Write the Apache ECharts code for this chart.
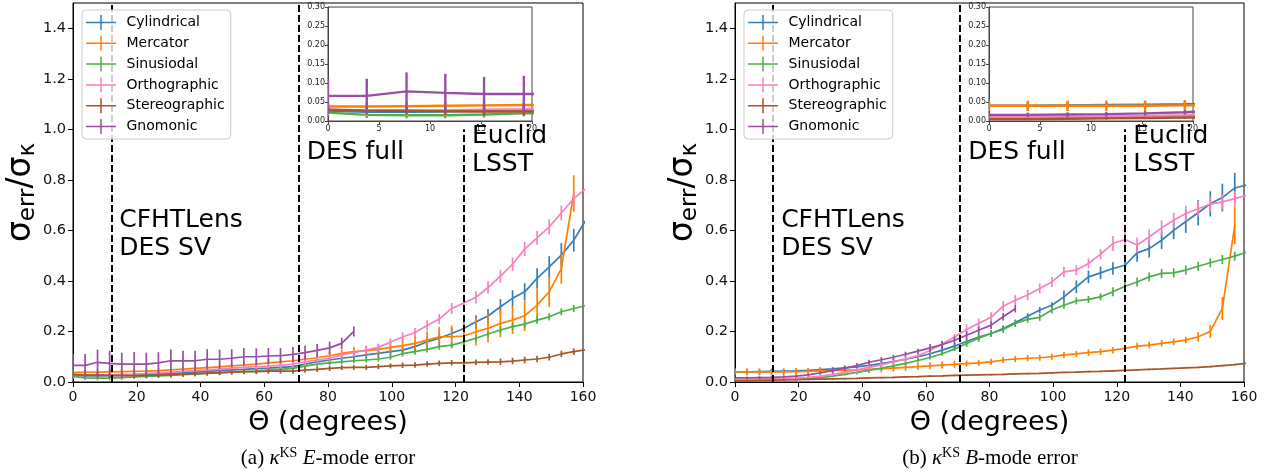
<!DOCTYPE html>
<html>
<head>
<meta charset="utf-8">
<script src="https://cdn.jsdelivr.net/npm/echarts@6/dist/echarts.min.js"></script>
<style>
html, body { margin: 0; padding: 0; background: #fff; }
#chart { width: 1266px; height: 473px; }
</style>
</head>
<body>
<div id="chart"></div>
<script>
// angle of each measurement (degrees)
var theta = [0, 3.8, 7.7, 11.5, 15.3, 19.2, 23.0, 26.8, 30.7, 34.5, 38.3, 42.1, 46.0, 49.8, 53.6,
  57.5, 61.3, 65.1, 69.0, 72.8, 76.6, 80.5, 84.3, 88.1, 92.0, 95.8, 99.6, 103.4, 107.3, 111.1,
  114.9, 118.8, 122.6, 126.4, 130.2, 134.1, 137.9, 141.7, 145.6, 149.4, 153.2, 157.1, 160.9];

var names = ["Cylindrical", "Mercator", "Sinusiodal", "Orthographic", "Stereographic", "Gnomonic"];
var colors = ["#377eb8", "#ff7f00", "#4daf4a", "#f781bf", "#a65628", "#984ea3"];

// survey limits (degrees)
var surveyLines = [12, 70.7, 122.5];

var yTicks = [0, 0.2, 0.4, 0.6, 0.8, 1.0, 1.2, 1.4];

// (a) E-mode error
var eCyl = [0.027, 0.024, 0.024, 0.025, 0.026, 0.027, 0.029, 0.031, 0.034, 0.036, 0.039, 0.042, 0.045, 0.048, 0.050,
  0.053, 0.055, 0.058, 0.061, 0.071, 0.080, 0.087, 0.094, 0.100, 0.107, 0.113, 0.120,
  0.126, 0.140, 0.159, 0.173, 0.192, 0.212, 0.238, 0.261, 0.298, 0.331, 0.357, 0.410, 0.456, 0.502, 0.561, 0.640];
var eCylErr = [0.010, 0.010, 0.010, 0.010, 0.010, 0.010, 0.010, 0.010, 0.010, 0.010, 0.010, 0.010, 0.010, 0.010, 0.010,
  0.010, 0.011, 0.011, 0.012, 0.012, 0.012, 0.013, 0.013, 0.014, 0.014, 0.015, 0.015,
  0.016, 0.018, 0.020, 0.020, 0.022, 0.024, 0.026, 0.028, 0.030, 0.032, 0.034, 0.040, 0.042, 0.048, 0.045, 0.050];
var eMer = [0.038, 0.038, 0.039, 0.040, 0.041, 0.042, 0.043, 0.045, 0.048, 0.051, 0.054, 0.057, 0.060, 0.064, 0.067,
  0.071, 0.076, 0.080, 0.084, 0.090, 0.096, 0.104, 0.113, 0.120, 0.124, 0.129, 0.137,
  0.144, 0.153, 0.166, 0.179, 0.179, 0.182, 0.199, 0.212, 0.232, 0.245, 0.262, 0.304, 0.357, 0.449, 0.746];
var eMerErr = [0.010, 0.010, 0.010, 0.010, 0.010, 0.010, 0.010, 0.010, 0.010, 0.010, 0.010, 0.010, 0.010, 0.010, 0.010,
  0.015, 0.015, 0.015, 0.015, 0.015, 0.015, 0.015, 0.015, 0.020, 0.020, 0.020, 0.020,
  0.030, 0.030, 0.035, 0.040, 0.045, 0.050, 0.055, 0.055, 0.055, 0.055, 0.060, 0.065, 0.060, 0.060, 0.072];
var eSin = [0.022, 0.016, 0.015, 0.015, 0.017, 0.020, 0.022, 0.024, 0.026, 0.029, 0.031, 0.034, 0.036, 0.039, 0.041,
  0.043, 0.047, 0.050, 0.054, 0.063, 0.071, 0.076, 0.080, 0.084, 0.087, 0.091, 0.098,
  0.112, 0.120, 0.129, 0.140, 0.146, 0.159, 0.173, 0.190, 0.206, 0.219, 0.229, 0.245, 0.258, 0.278, 0.291, 0.303];
var eSinErr = [0.008, 0.008, 0.008, 0.008, 0.008, 0.008, 0.008, 0.008, 0.008, 0.008, 0.008, 0.008, 0.008, 0.008, 0.008,
  0.010, 0.010, 0.010, 0.010, 0.010, 0.010, 0.010, 0.010, 0.010, 0.010, 0.010, 0.010,
  0.012, 0.012, 0.012, 0.012, 0.012, 0.012, 0.012, 0.012, 0.014, 0.014, 0.014, 0.014, 0.014, 0.014, 0.014, 0.014];
var eOrt = [0.030, 0.028, 0.028, 0.028, 0.030, 0.031, 0.033, 0.036, 0.039, 0.042, 0.045, 0.048, 0.051, 0.055, 0.058,
  0.061, 0.063, 0.066, 0.071, 0.080, 0.087, 0.094, 0.107, 0.116, 0.126, 0.137, 0.158,
  0.178, 0.196, 0.224, 0.249, 0.291, 0.313, 0.335, 0.374, 0.419, 0.466, 0.526, 0.570, 0.614, 0.669, 0.726, 0.765];
var eOrtErr = [0.014, 0.014, 0.014, 0.014, 0.014, 0.014, 0.014, 0.014, 0.014, 0.014, 0.014, 0.014, 0.014, 0.014, 0.014,
  0.015, 0.015, 0.015, 0.015, 0.015, 0.015, 0.015, 0.015, 0.015, 0.015, 0.015, 0.015,
  0.018, 0.018, 0.020, 0.020, 0.022, 0.022, 0.024, 0.025, 0.026, 0.027, 0.028, 0.028, 0.030, 0.030, 0.030, 0.030];
var eSte = [0.030, 0.027, 0.027, 0.026, 0.025, 0.025, 0.026, 0.027, 0.029, 0.031, 0.033, 0.035, 0.037, 0.039, 0.041,
  0.041, 0.043, 0.043, 0.043, 0.047, 0.050, 0.054, 0.057, 0.058, 0.058, 0.061, 0.064,
  0.066, 0.067, 0.071, 0.074, 0.076, 0.076, 0.078, 0.079, 0.080, 0.083, 0.087, 0.091, 0.098, 0.111, 0.120, 0.128];
var eSteErr = [0.010, 0.010, 0.010, 0.010, 0.010, 0.010, 0.010, 0.010, 0.010, 0.010, 0.010, 0.010, 0.010, 0.010, 0.010,
  0.010, 0.010, 0.010, 0.010, 0.010, 0.010, 0.010, 0.010, 0.010, 0.010, 0.010, 0.010,
  0.011, 0.011, 0.011, 0.011, 0.011, 0.011, 0.011, 0.011, 0.013, 0.013, 0.013, 0.013, 0.013, 0.013, 0.013, 0.013];
var eGno = [0.066, 0.066, 0.078, 0.074, 0.071, 0.071, 0.071, 0.076, 0.084, 0.084, 0.084, 0.090, 0.090, 0.094, 0.100,
  0.100, 0.103, 0.104, 0.109, 0.116, 0.125, 0.135, 0.153, 0.200];
var eGnoErr = [0.045, 0.045, 0.050, 0.050, 0.045, 0.048, 0.045, 0.042, 0.045, 0.040, 0.040, 0.040, 0.038, 0.036, 0.035,
  0.033, 0.032, 0.030, 0.030, 0.028, 0.026, 0.025, 0.022, 0.020];

// (b) B-mode error
var bCyl = [0.040, 0.040, 0.041, 0.042, 0.043, 0.044, 0.046, 0.049, 0.052, 0.056, 0.060, 0.066, 0.073, 0.081, 0.090,
  0.100, 0.112, 0.126, 0.142, 0.160, 0.178, 0.192, 0.212, 0.235, 0.260, 0.285, 0.304, 0.337, 0.377, 0.416,
  0.432, 0.449, 0.462, 0.511, 0.528, 0.561, 0.600, 0.635, 0.670, 0.705, 0.730, 0.768, 0.780];
var bCylErr = [0.008, 0.008, 0.008, 0.008, 0.008, 0.008, 0.008, 0.008, 0.008, 0.008, 0.008, 0.008, 0.008, 0.008, 0.008,
  0.012, 0.012, 0.012, 0.012, 0.012, 0.012, 0.012, 0.012, 0.012, 0.012, 0.012, 0.012, 0.025, 0.025, 0.025,
  0.025, 0.025, 0.025, 0.035, 0.035, 0.035, 0.035, 0.045, 0.050, 0.050, 0.055, 0.060, 0.065];
var bMer = [0.040, 0.040, 0.040, 0.040, 0.040, 0.041, 0.042, 0.044, 0.045, 0.047, 0.048, 0.050, 0.052, 0.055, 0.058,
  0.061, 0.064, 0.067, 0.070, 0.073, 0.076, 0.080, 0.087, 0.091, 0.094, 0.096, 0.100, 0.107, 0.111, 0.116,
  0.120, 0.126, 0.133, 0.142, 0.146, 0.153, 0.159, 0.166, 0.179, 0.200, 0.291, 0.620];
var bMerErr = [0.014, 0.014, 0.014, 0.014, 0.014, 0.014, 0.014, 0.014, 0.014, 0.014, 0.014, 0.014, 0.014, 0.014, 0.014,
  0.014, 0.014, 0.014, 0.014, 0.012, 0.012, 0.012, 0.012, 0.012, 0.012, 0.012, 0.012, 0.012, 0.012, 0.013,
  0.013, 0.013, 0.013, 0.013, 0.013, 0.013, 0.013, 0.013, 0.018, 0.025, 0.045, 0.075];
var bSin = [0.008, 0.008, 0.008, 0.009, 0.010, 0.011, 0.013, 0.017, 0.023, 0.030, 0.038, 0.046, 0.055, 0.064, 0.074,
  0.085, 0.097, 0.112, 0.130, 0.152, 0.173, 0.192, 0.208, 0.232, 0.248, 0.256, 0.285, 0.304, 0.321, 0.327,
  0.337, 0.357, 0.379, 0.396, 0.416, 0.430, 0.432, 0.443, 0.458, 0.472, 0.485, 0.498, 0.514];
var bSinErr = [0.004, 0.004, 0.004, 0.004, 0.004, 0.004, 0.004, 0.004, 0.004, 0.004, 0.008, 0.008, 0.008, 0.008, 0.008,
  0.008, 0.008, 0.008, 0.008, 0.014, 0.014, 0.014, 0.014, 0.014, 0.014, 0.014, 0.014, 0.014, 0.014, 0.014,
  0.014, 0.018, 0.018, 0.018, 0.018, 0.018, 0.018, 0.018, 0.018, 0.018, 0.018, 0.018, 0.018];
var bOrt = [0.010, 0.010, 0.011, 0.012, 0.013, 0.015, 0.018, 0.023, 0.030, 0.038, 0.048, 0.058, 0.068, 0.079, 0.090,
  0.105, 0.125, 0.150, 0.178, 0.208, 0.232, 0.256, 0.300, 0.324, 0.344, 0.370, 0.396, 0.436, 0.443, 0.469,
  0.506, 0.548, 0.564, 0.542, 0.574, 0.610, 0.640, 0.667, 0.686, 0.704, 0.713, 0.726, 0.740];
var bOrtErr = [0.006, 0.006, 0.006, 0.006, 0.006, 0.006, 0.006, 0.006, 0.006, 0.006, 0.012, 0.012, 0.012, 0.012, 0.012,
  0.012, 0.012, 0.012, 0.012, 0.020, 0.020, 0.020, 0.020, 0.020, 0.020, 0.020, 0.020, 0.020, 0.020, 0.020,
  0.020, 0.030, 0.030, 0.030, 0.030, 0.030, 0.030, 0.030, 0.030, 0.030, 0.030, 0.030, 0.030];
var bSte = [0.005, 0.005, 0.006, 0.007, 0.008, 0.009, 0.010, 0.011, 0.012, 0.013, 0.014, 0.016, 0.017, 0.018, 0.020,
  0.021, 0.023, 0.024, 0.026, 0.027, 0.028, 0.029, 0.030, 0.032, 0.033, 0.034, 0.036, 0.038, 0.039, 0.041,
  0.042, 0.044, 0.046, 0.048, 0.050, 0.052, 0.054, 0.056, 0.058, 0.061, 0.065, 0.069, 0.074];
var bSteErr = [0.003, 0.003, 0.003, 0.003, 0.003, 0.003, 0.003, 0.003, 0.003, 0.003, 0.003, 0.003, 0.003, 0.003, 0.003,
  0.003, 0.003, 0.003, 0.003, 0.003, 0.003, 0.003, 0.003, 0.003, 0.003, 0.003, 0.003, 0.003, 0.003, 0.003,
  0.003, 0.003, 0.003, 0.003, 0.003, 0.003, 0.003, 0.003, 0.003, 0.003, 0.003, 0.003, 0.003];
var bGno = [0.016, 0.016, 0.017, 0.018, 0.020, 0.023, 0.028, 0.036, 0.045, 0.055, 0.065, 0.078, 0.088, 0.098, 0.110,
  0.122, 0.135, 0.148, 0.165, 0.185, 0.205, 0.225, 0.258, 0.290];
var bGnoErr = [0.006, 0.006, 0.006, 0.006, 0.006, 0.006, 0.006, 0.006, 0.010, 0.010, 0.010, 0.010, 0.010, 0.010, 0.010,
  0.010, 0.015, 0.015, 0.015, 0.015, 0.015, 0.015, 0.015, 0.015];

var eVals = [eCyl, eMer, eSin, eOrt, eSte, eGno];
var eErrs = [eCylErr, eMerErr, eSinErr, eOrtErr, eSteErr, eGnoErr];
var bVals = [bCyl, bMer, bSin, bOrt, bSte, bGno];
var bErrs = [bCylErr, bMerErr, bSinErr, bOrtErr, bSteErr, bGnoErr];

var FONT = "DejaVu Sans";
var crossIcon = "path://M0,9h40v2h-40zM19,0h2v20h-2z";

function errSeries(vals, errs, axis, lw, z) {
  var out = [];
  for (var k = 0; k < names.length; k++) {
    (function (k) {
      var col = colors[k];
      out.push({
        name: names[k], type: "line", xAxisIndex: axis, yAxisIndex: axis, z: z + k * 0.01,
        data: vals[k].map(function (v, i) { return [theta[i], v]; }),
        symbol: "none", showSymbol: false, clip: true, silent: true,
        lineStyle: { color: col, width: lw }, itemStyle: { color: col }
      });
      out.push({
        name: names[k], type: "custom", xAxisIndex: axis, yAxisIndex: axis, z: z + k * 0.01,
        clip: true, silent: true,
        encode: { x: 0, y: 1 },
        data: vals[k].map(function (v, i) { return [theta[i], v, errs[k][i]]; }),
        renderItem: function (params, api) {
          var x = api.value(0), y = api.value(1), e = api.value(2);
          var a = api.coord([x, y - e]), b = api.coord([x, y + e]);
          return { type: "line", shape: { x1: a[0], y1: a[1], x2: b[0], y2: b[1] },
            style: { stroke: col, lineWidth: lw } };
        }
      });
    })(k);
  }
  return out;
}

function vlines(axis, top) {
  return {
    type: "line", xAxisIndex: axis, yAxisIndex: axis, data: [[-50, -50]], clip: true, z: 3,
    symbol: "none", lineStyle: { width: 0 }, silent: true,
    markLine: {
      silent: true, symbol: ["none", "none"], animation: false,
      label: { show: false },
      lineStyle: { color: "#000", width: 2, type: [7, 3] },
      data: surveyLines.map(function (x, i) {
        return [{ coord: [x, 0] }, { coord: [x, top[i]] }];
      })
    }
  };
}

function mainX(grid) {
  return {
    gridIndex: grid, type: "value", min: 0, max: 160, interval: 20,
    axisLine: { show: true, onZero: false, lineStyle: { color: "#000", width: 1 } },
    axisTick: { show: true, length: 5, lineStyle: { color: "#000" } },
    axisLabel: { fontFamily: FONT, fontSize: 14, color: "#111", margin: 8 },
    splitLine: { show: false },
    name: "Θ (degrees)", nameLocation: "middle", nameGap: 27,
    nameTextStyle: { fontFamily: FONT, fontSize: 27, color: "#000" }
  };
}
function mainY(grid) {
  return {
    gridIndex: grid, type: "value", min: 0, max: 1.5,
    axisLine: { show: true, onZero: false, lineStyle: { color: "#000", width: 1 } },
    axisTick: { show: true, length: 5, lineStyle: { color: "#000" }, customValues: yTicks },
    axisLabel: { fontFamily: FONT, fontSize: 14.5, color: "#111", margin: 7, customValues: yTicks,
      formatter: function (v) { return v.toFixed(1); } },
    splitLine: { show: false },
    name: "{a|σ}{s|err}{a|/σ}{s|κ}", nameLocation: "middle", nameGap: 29, nameRotate: 90,
    nameTextStyle: {
      rich: {
        a: { fontFamily: FONT, fontSize: 33, color: "#000", lineHeight: 42 },
        s: { fontFamily: FONT, fontSize: 23, color: "#000", lineHeight: 42, padding: [13, 0, 0, 0] }
      }
    }
  };
}
function insetX(grid) {
  return {
    gridIndex: grid, type: "value", min: 0, max: 20, interval: 5,
    axisLine: { show: true, onZero: false, lineStyle: { color: "#444" } },
    axisTick: { show: true, length: 3, lineStyle: { color: "#444" } },
    axisLabel: { fontFamily: FONT, fontSize: 8, color: "#222", margin: 4 },
    splitLine: { show: false }, z: 10
  };
}
function insetY(grid) {
  return {
    gridIndex: grid, type: "value", min: 0, max: 0.3, interval: 0.05,
    axisLine: { show: true, onZero: false, lineStyle: { color: "#444" } },
    axisTick: { show: true, length: 3, lineStyle: { color: "#444" } },
    axisLabel: { fontFamily: FONT, fontSize: 8, color: "#222", margin: 3,
      formatter: function (v) { return v.toFixed(2); } },
    splitLine: { show: false }, z: 10
  };
}
function legendAt(left) {
  return {
    orient: "vertical", left: left, top: 10, itemWidth: 31, itemHeight: 15, itemGap: 5.8,
    padding: [5, 6, 5, 4], selectedMode: false,
    backgroundColor: "rgba(255,255,255,0.8)", borderColor: "#cccccc", borderWidth: 1, borderRadius: 4,
    textStyle: { fontFamily: FONT, fontSize: 14, color: "#000", padding: [0, 0, 0, 5] },
    data: names.map(function (n) { return { name: n, icon: crossIcon }; }),
    z: 20
  };
}

var series = [];
series = series.concat(errSeries(eVals, eErrs, 0, 1.7, 2));
series = series.concat(errSeries(eVals, eErrs, 1, 2.4, 12));
series = series.concat(errSeries(bVals, bErrs, 2, 1.7, 2));
series = series.concat(errSeries(bVals, bErrs, 3, 2.4, 12));
series.push(vlines(0, [1.5, 1.5, 1.0]));
series.push(vlines(2, [1.5, 1.5, 1.0]));

var option = {
  animation: false,
  backgroundColor: "#fff",
  grid: [
    { left: 73, top: 3, width: 510, height: 379, show: true, borderColor: "#000", borderWidth: 1, backgroundColor: "transparent" },
    { left: 328, top: 7, width: 204, height: 114, show: true, borderColor: "#444", borderWidth: 1, backgroundColor: "#fff", z: 10 },
    { left: 735, top: 3, width: 509, height: 379, show: true, borderColor: "#000", borderWidth: 1, backgroundColor: "transparent" },
    { left: 989, top: 7, width: 204, height: 114, show: true, borderColor: "#444", borderWidth: 1, backgroundColor: "#fff", z: 10 }
  ],
  xAxis: [mainX(0), insetX(1), mainX(2), insetX(3)],
  yAxis: [mainY(0), insetY(1), mainY(2), insetY(3)],
  legend: [legendAt(82), legendAt(744)],
  series: series
};

var chart = echarts.init(document.getElementById("chart"), null, { renderer: "canvas" });
chart.setOption(option);

// survey annotations, placed in data coordinates
var notes = [
  ["CFHTLens", 14.5, 0.64], ["DES SV", 14.5, 0.527], ["DES full", 73.3, 0.908],
  ["Euclid", 125.2, 0.971], ["LSST", 125.2, 0.862]
];
var graphics = [];
[0, 2].forEach(function (g) {
  notes.forEach(function (n) {
    var p = chart.convertToPixel({ gridIndex: g }, [n[1], n[2]]);
    graphics.push({ type: "text", x: p[0], y: p[1], z: 30,
      style: { text: n[0], fontFamily: FONT, fontSize: 25, fill: "#000", verticalAlign: "middle", align: "left" } });
  });
});
var capStyle = {
  fontFamily: "Liberation Serif", fontSize: 21, fill: "#000", align: "center", verticalAlign: "middle",
  rich: {
    r: { fontFamily: "Liberation Serif", fontSize: 21, lineHeight: 26 },
    i: { fontFamily: "Liberation Serif", fontSize: 21, fontStyle: "italic", lineHeight: 26 },
    sup: { fontFamily: "Liberation Serif", fontSize: 14, lineHeight: 26, padding: [0, 0, 10, 0] }
  }
};
graphics.push({ type: "text", x: 328, y: 458, style: Object.assign({}, capStyle,
  { text: "{r|(a) }{i|κ}{sup|KS}{r| }{i|E}{r|-mode error}" }) });
graphics.push({ type: "text", x: 990, y: 458, style: Object.assign({}, capStyle,
  { text: "{r|(b) }{i|κ}{sup|KS}{r| }{i|B}{r|-mode error}" }) });
chart.setOption({ graphic: graphics });
</script>
</body>
</html>
